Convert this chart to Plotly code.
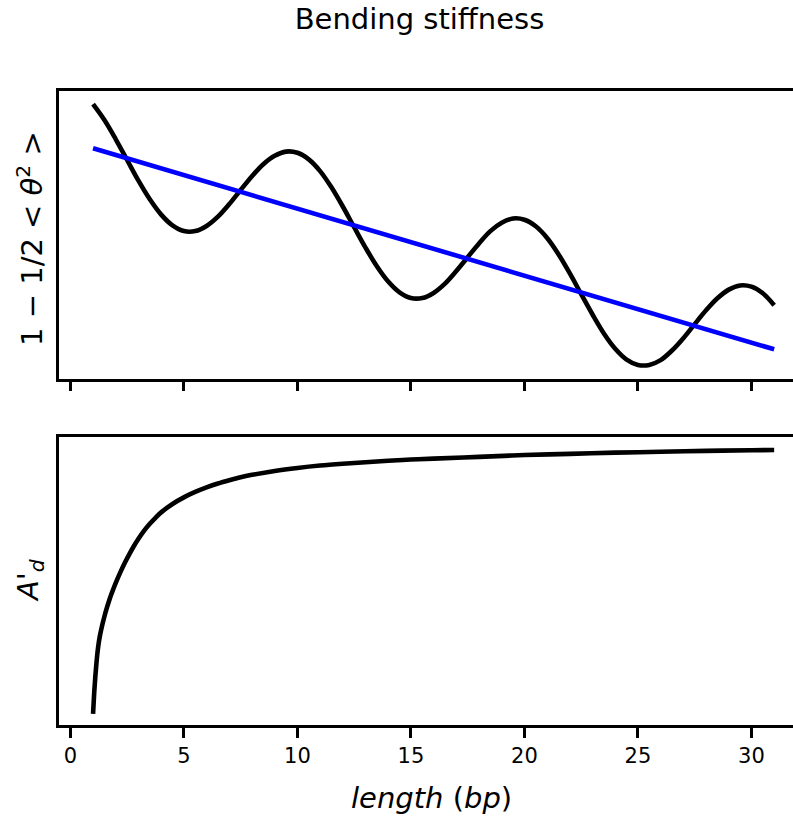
import plotly.graph_objects as go

# ---- data ----
length_bp = [1, 1.5, 2, 2.5, 3, 3.5, 4, 4.5, 5, 5.5, 6, 6.5, 7, 7.5, 8, 8.5, 9, 9.5, 10, 10.5,
             11, 11.5, 12, 12.5, 13, 13.5, 14, 14.5, 15, 15.5, 16, 16.5, 17, 17.5, 18, 18.5,
             19, 19.5, 20, 20.5, 21, 21.5, 22, 22.5, 23, 23.5, 24, 24.5, 25, 25.5, 26, 26.5,
             27, 27.5, 28, 28.5, 29, 29.5, 30, 30.5, 31]
corr_values = [0.986, 0.933, 0.869, 0.800, 0.731, 0.669, 0.618, 0.582, 0.563, 0.563,
               0.580, 0.611, 0.653, 0.700, 0.746, 0.786, 0.814, 0.828, 0.824, 0.802,
               0.763, 0.709, 0.645, 0.576, 0.508, 0.446, 0.395, 0.359, 0.340, 0.340,
               0.357, 0.388, 0.430, 0.476, 0.522, 0.563, 0.591, 0.605, 0.601, 0.579,
               0.540, 0.486, 0.422, 0.353, 0.285, 0.222, 0.171, 0.135, 0.117, 0.117,
               0.133, 0.165, 0.206, 0.253, 0.299, 0.339, 0.368, 0.382, 0.378, 0.356,
               0.316]

fit_x = [1, 31]
fit_values = [0.839, 0.169]

stiff_x = [1.0, 1.05, 1.1, 1.15, 1.2, 1.25, 1.3, 1.4, 1.5, 1.6, 1.7, 1.8, 1.9, 2.0,
           2.2, 2.4, 2.6, 2.8, 3.0, 3.25, 3.5, 3.75, 4.0, 4.5, 5.0, 5.5, 6.0, 6.5, 7.0,
           7.5, 8.0, 9.0, 10, 11, 12, 13, 14, 15, 16, 18, 20, 22, 24, 26, 28, 30, 31]
stiff_values = [0.120, 0.190, 0.245, 0.290, 0.328, 0.357, 0.380, 0.415, 0.445, 0.472,
                0.496, 0.518, 0.538, 0.557, 0.592, 0.624, 0.653, 0.680, 0.704, 0.731,
                0.754, 0.774, 0.792, 0.820, 0.842, 0.860, 0.875, 0.888, 0.899, 0.909,
                0.917, 0.930, 0.940, 0.948, 0.954, 0.959, 0.964, 0.968, 0.971, 0.977,
                0.983, 0.987, 0.991, 0.994, 0.997, 0.999, 1.000]

x_ticks = [0, 5, 10, 15, 20, 25, 30]

FONT = "DejaVu Sans"
W, H = 793, 816
ML, MR, MT, MB = 59, 0, 91, 91

fig = go.Figure()
fig.add_trace(go.Scatter(x=length_bp, y=corr_values, mode="lines",
                         line=dict(color="black", width=4.6, shape="spline", smoothing=1.0),
                         xaxis="x", yaxis="y", showlegend=False))
fig.add_trace(go.Scatter(x=fit_x, y=fit_values, mode="lines",
                         line=dict(color="#0000ff", width=4.6),
                         xaxis="x", yaxis="y", showlegend=False))
fig.add_trace(go.Scatter(x=stiff_x, y=stiff_values, mode="lines",
                         line=dict(color="black", width=4.6, shape="spline", smoothing=1.0),
                         xaxis="x2", yaxis="y2", showlegend=False))

xr = [-0.5, 31.83]
axis_common = dict(showline=True, linecolor="black", linewidth=2.6,
                   showgrid=False, zeroline=False)

fig.update_layout(
    width=W, height=H,
    margin=dict(l=ML, r=MR, t=MT, b=MB),
    paper_bgcolor="white", plot_bgcolor="white",
    font=dict(family=FONT, color="black", size=21),
    xaxis=dict(domain=[0, 1], range=xr, anchor="y", tickvals=x_ticks,
               showticklabels=False, ticks="outside", ticklen=10, tickwidth=2.6,
               tickcolor="black", mirror=True, **axis_common),
    yaxis=dict(domain=[0.5465, 1], range=[0.0717, 1.030], anchor="x",
               showticklabels=False, ticks="", mirror=False, **axis_common),
    xaxis2=dict(domain=[0, 1], range=xr, anchor="y2", tickvals=x_ticks,
                ticktext=[str(v) for v in x_ticks],
                showticklabels=True, ticks="outside", ticklen=10, tickwidth=2.6,
                tickcolor="black", tickfont=dict(size=21, family=FONT),
                mirror=True, **axis_common),
    yaxis2=dict(domain=[0, 0.4543], range=[0.0833, 1.0433], anchor="x2",
                showticklabels=False, ticks="", mirror=False, **axis_common),
    title=dict(text="Bending stiffness", x=(419.5 - ML) / (W - ML - MR),
               xref="paper", xanchor="center", y=1 - 19 / H, yref="container",
               yanchor="middle", font=dict(size=29, family=FONT, color="black")),
)

plot_h = H - MT - MB
plot_w = W - ML - MR

def px_to_paper_x(px):
    return (px - ML) / plot_w

def px_to_paper_y(py):
    return (H - MB - py) / plot_h

annotations = [
    dict(text="1 − 1/2 &lt; <i>θ</i><sup>2</sup> &gt;", textangle=-90,
         x=px_to_paper_x(30), y=px_to_paper_y(239), xref="paper", yref="paper",
         xanchor="center", yanchor="middle", showarrow=False,
         font=dict(size=29, family=FONT, color="black")),
    dict(text="<i>A</i>'<sub><i>d</i></sub>", textangle=-90,
         x=px_to_paper_x(30), y=px_to_paper_y(581), xref="paper", yref="paper",
         xanchor="center", yanchor="middle", showarrow=False,
         font=dict(size=29, family=FONT, color="black")),
    dict(text="<i>length</i> (<i>bp</i>)",
         x=px_to_paper_x(431), y=px_to_paper_y(798), xref="paper", yref="paper",
         xanchor="center", yanchor="middle", showarrow=False,
         font=dict(size=29, family=FONT, color="black")),
]
fig.update_layout(annotations=annotations)

fig.write_html("out.html")
